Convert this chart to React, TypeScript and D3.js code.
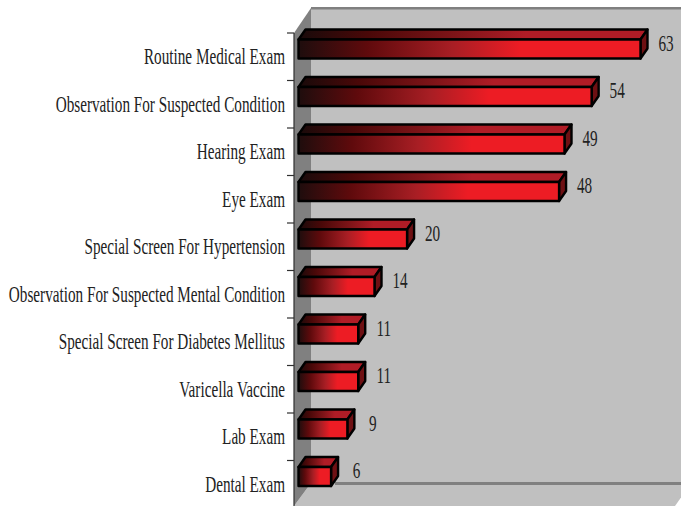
import React from "react";
import * as d3 from "d3";

const categories = [
  "Routine Medical Exam",
  "Observation For Suspected Condition",
  "Hearing Exam",
  "Eye Exam",
  "Special Screen For Hypertension",
  "Observation For Suspected Mental Condition",
  "Special Screen For Diabetes Mellitus",
  "Varicella Vaccine",
  "Lab Exam",
  "Dental Exam",
];
const values = [63, 54, 49, 48, 20, 14, 11, 11, 9, 6];

const W = 681, H = 506;
const x = d3.scaleLinear().domain([0, 63]).range([298.5, 640.5]);
const y = d3.scalePoint<string>().domain(categories).range([33, 460.5]);
const dx = 7, dy = 10, barH = 19;
const serif = "'Liberation Serif', 'Times New Roman', serif";
const sx = 0.634;

const stops = (c: string[]) => [0, 0.2, 0.45, 0.65, 1].map((o, i) => (
  <stop key={i} offset={o} stopColor={c[i]} />
));

export default function App() {
  return (
    <svg width={W} height={H} style={{ position: "absolute", left: 0, top: 0, background: "#fff" }}>
      <defs>
        <linearGradient id="front" x1="0" x2="1" y1="0" y2="0">
          {stops(["#1e0d0d", "#5f0a0c", "#a81e24", "#ed1c24", "#ed1c24"])}
        </linearGradient>
        <linearGradient id="top" x1="0" x2="1" y1="0" y2="0">
          {stops(["#180a0a", "#4a0808", "#7f1418", "#b01c26", "#b01c26"])}
        </linearGradient>
      </defs>
      <rect x={311} y={8} width={W - 311} height={475} fill="#c0c0c0" />
      <polygon points="311,483 691,483 675,506 294,506" fill="#c0c0c0" />
      <polygon points="294,33 311,8 311,483 294,506" fill="#808080" />
      <rect x={311} y={7} width={W - 311} height={2.5} fill="#808080" />
      <rect x={335} y={482} width={W - 335} height={3} fill="#808080" />
      <line x1={294} x2={294} y1={33} y2={506} stroke="#303030" strokeWidth={1.2} />
      {categories.map((c, i) => {
        const ty = y(c)!;
        const top = ty + 6.5;
        const x0 = x(0), x1 = x(values[i]);
        return (
          <g key={c}>
            <line x1={287} x2={294} y1={ty} y2={ty} stroke="#303030" strokeWidth={1.2} />
            <text
              transform={`translate(285,${ty + 31}) scale(${sx},1)`}
              textAnchor="end"
              fontFamily={serif}
              fontSize={24}
              fill="#222"
            >
              {c}
            </text>
            <g stroke="#000" strokeWidth={2.4} strokeLinejoin="round">
              <polygon
                points={`${x0},${top} ${x0 + dx},${top - dy} ${x1 + dx},${top - dy} ${x1},${top}`}
                fill="url(#top)"
              />
              <polygon
                points={`${x1},${top} ${x1 + dx},${top - dy} ${x1 + dx},${top - dy + barH} ${x1},${top + barH}`}
                fill="#6e1013"
              />
              <rect x={x0} y={top} width={x1 - x0} height={barH} fill="url(#front)" />
            </g>
            <text
              transform={`translate(${x1 + 25.5},${top + 11}) scale(${sx},1)`}
              textAnchor="middle"
              fontFamily={serif}
              fontSize={24}
              fill="#222"
            >
              {values[i]}
            </text>
          </g>
        );
      })}
    </svg>
  );
}
